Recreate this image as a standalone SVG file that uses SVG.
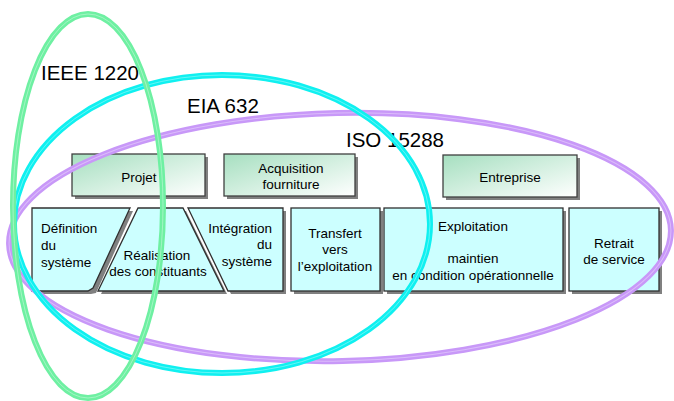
<svg xmlns="http://www.w3.org/2000/svg" width="674" height="401" viewBox="0 0 674 401">
<defs>
<linearGradient id="gTop" x1="0" y1="0" x2="1" y2="1">
<stop offset="0" stop-color="#a6dfc0"/>
<stop offset="1" stop-color="#ffffff"/>
</linearGradient>
<style>
.sh{fill:#808080;}
.top{fill:url(#gTop);stroke:#404040;stroke-width:1.3;}
.box{fill:#ccffff;stroke:#303030;stroke-width:1.3;}
.t{font-family:"Liberation Sans",Arial,sans-serif;font-size:13.5px;fill:#000;}
.big{font-family:"Liberation Sans",Arial,sans-serif;font-size:20.5px;fill:#000;}
.ell{fill:none;stroke-width:6;}
.hl{fill:none;stroke-width:1;stroke:#ffffff;stroke-opacity:0.35;}
</style>
</defs>
<rect width="674" height="401" fill="#ffffff"/>

<g id="labels">
<text class="big" x="41" y="80">IEEE 1220</text>
<text class="big" x="187" y="113">EIA 632</text>
<text class="big" x="346" y="147">ISO 15288</text>
</g>

<g id="projet">
<rect class="sh" x="75" y="157" width="133" height="42"/>
<rect class="top" x="72" y="154" width="133" height="42"/>
<text class="t" x="139" y="182" text-anchor="middle">Projet</text>
</g>
<g id="acquisition">
<rect class="sh" x="227" y="157" width="131" height="42"/>
<rect class="top" x="224" y="154" width="131" height="42"/>
<text class="t" x="291" y="173" text-anchor="middle">Acquisition</text>
<text class="t" x="291" y="189" text-anchor="middle">fourniture</text>
</g>
<g id="entreprise">
<rect class="sh" x="446" y="158" width="134" height="42"/>
<rect class="top" x="443" y="155" width="134" height="42"/>
<text class="t" x="510" y="182" text-anchor="middle">Entreprise</text>
</g>

<g id="definition">
<polygon class="sh" points="35,211 133,211 96,293 91,294 35,294"/>
<polygon class="box" points="32,208 130,208 93,288 88,291 32,291"/>
<text class="t" x="41" y="233">Définition</text>
<text class="t" x="41" y="250">du</text>
<text class="t" x="41" y="267">système</text>
</g>
<g id="realisation">
<polygon class="sh" points="141,211 186,211 227,294 101,294"/>
<polygon class="box" points="138,208 183,208 224,291 98,291"/>
<text class="t" x="157" y="260" text-anchor="middle">Réalisation</text>
<text class="t" x="158" y="276" text-anchor="middle">des constituants</text>
</g>
<g id="integration">
<polygon class="sh" points="191,211 286,211 286,294 231,294"/>
<polygon class="box" points="188,208 283,208 283,291 228,291"/>
<text class="t" x="272" y="233" text-anchor="end">Intégration</text>
<text class="t" x="272" y="249" text-anchor="end">du</text>
<text class="t" x="272" y="266" text-anchor="end">système</text>
</g>
<g id="transfert">
<rect class="sh" x="294" y="211" width="89" height="83"/>
<rect class="box" x="291" y="208" width="89" height="83"/>
<text class="t" x="335" y="238" text-anchor="middle">Transfert</text>
<text class="t" x="335" y="254" text-anchor="middle">vers</text>
<text class="t" x="335" y="271" text-anchor="middle">l’exploitation</text>
</g>
<g id="exploitation">
<rect class="sh" x="387" y="211" width="179" height="83"/>
<rect class="box" x="384" y="208" width="179" height="83"/>
<text class="t" x="473" y="231" text-anchor="middle">Exploitation</text>
<text class="t" x="473" y="263" text-anchor="middle">maintien</text>
<text class="t" x="473" y="280" text-anchor="middle">en condition opérationnelle</text>
</g>
<g id="retrait">
<rect class="sh" x="572" y="211" width="90" height="83"/>
<rect class="box" x="569" y="208" width="90" height="83"/>
<text class="t" x="614" y="248" text-anchor="middle">Retrait</text>
<text class="t" x="614" y="264" text-anchor="middle">de service</text>
</g>

<g id="ellipses">
<g id="iso15288" transform="rotate(-1.2 340 237)">
<ellipse class="ell" cx="340" cy="237" rx="331" ry="124" stroke="#c898f8"/>
<ellipse class="hl" cx="340" cy="237" rx="331" ry="124"/>
</g>
<g id="eia632">
<ellipse class="ell" cx="222" cy="224" rx="208" ry="149" stroke="#10f0f0"/>
<ellipse class="hl" cx="222" cy="224" rx="208" ry="149"/>
</g>
<g id="ieee1220">
<ellipse class="ell" cx="88" cy="206" rx="75" ry="192" stroke="#6ef0a2"/>
<ellipse class="hl" cx="88" cy="206" rx="75" ry="192"/>
</g>
</g>
</svg>
